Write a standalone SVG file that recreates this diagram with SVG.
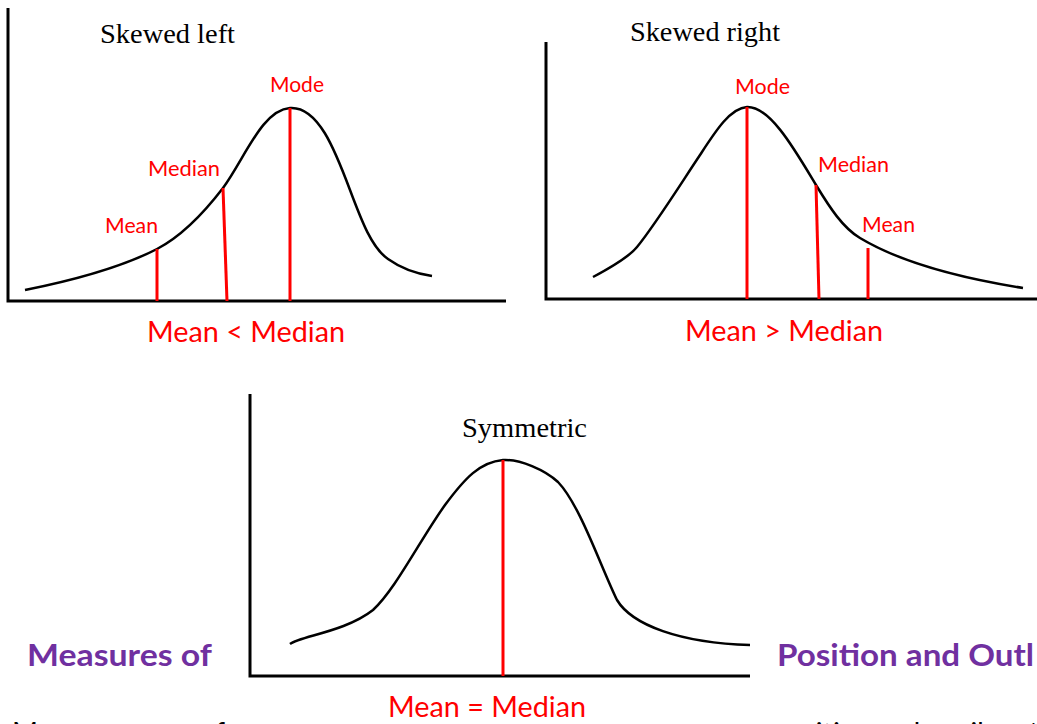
<svg xmlns="http://www.w3.org/2000/svg" width="1037" height="724" viewBox="0 0 1037 724">
<style>
.axis{stroke:#000;stroke-width:3;fill:none}
.curve{stroke:#000;stroke-width:2.5;fill:none;stroke-linejoin:round}
.mark{stroke:#FF0000;stroke-width:3}
.title{font-family:"Liberation Serif","Times New Roman",serif;font-size:27px;fill:#000}
.lbl{font-family:Lato,"Open Sans",sans-serif;font-size:21px;fill:#FF0000}
.rel{font-family:Lato,"Open Sans",sans-serif;font-size:29px;fill:#FF0000}
.head{font-family:Lato,"Open Sans",sans-serif;font-size:30px;font-weight:bold;fill:#7030A0}
.body{font-family:Lato,"Open Sans",sans-serif;font-size:28px;fill:#000}
</style>
<rect width="1037" height="724" fill="#fff"/>
<g id="page-text">
<text class="head" x="27" y="666" textLength="185" lengthAdjust="spacingAndGlyphs">Measures of</text>
<text class="head" x="777" y="666" textLength="257" lengthAdjust="spacingAndGlyphs">Position and Outl</text>
<text class="body" x="12" y="743" word-spacing="62">Measures of</text>
<text class="body" x="772" y="743" word-spacing="14">positions describe th</text>
</g>
<g id="chart-skewed-left">
<path class="axis" d="M8,8 V301 H506"/>
<text class="title" x="100" y="43" textLength="135" lengthAdjust="spacingAndGlyphs">Skewed left</text>
<path class="curve" d="M25,290 C70,281 120,268 157,249 C180,237 200,218 223,188 C245,158 262,110 290,108 C318,106 335,150 350,190 C362,222 372,248 388,259 C402,269 418,274 432,276"/>
<line class="mark" x1="157" y1="249" x2="157" y2="301"/>
<line class="mark" x1="223" y1="188" x2="227" y2="301"/>
<line class="mark" x1="290" y1="108" x2="290" y2="301"/>
<text class="lbl" x="105" y="233" textLength="53" lengthAdjust="spacingAndGlyphs">Mean</text>
<text class="lbl" x="148" y="176" textLength="72" lengthAdjust="spacingAndGlyphs">Median</text>
<text class="lbl" x="270" y="92" textLength="54" lengthAdjust="spacingAndGlyphs">Mode</text>
<text class="rel" x="147" y="342" textLength="198" lengthAdjust="spacingAndGlyphs">Mean &lt; Median</text>
</g>
<g id="chart-skewed-right">
<path class="axis" d="M546,42 V299 H1037"/>
<text class="title" x="630" y="41" textLength="150" lengthAdjust="spacingAndGlyphs">Skewed right</text>
<path class="curve" d="M593,277 C610,268 628,258 637,247 C655,225 680,185 700,155 C715,132 730,108 747,107 C770,106 795,150 816,185 C830,208 843,228 860,238 C900,262 960,278 1023,288"/>
<line class="mark" x1="747" y1="107" x2="747" y2="299"/>
<line class="mark" x1="816" y1="185" x2="819" y2="299"/>
<line class="mark" x1="868" y1="248" x2="868" y2="299"/>
<text class="lbl" x="735" y="94" textLength="55" lengthAdjust="spacingAndGlyphs">Mode</text>
<text class="lbl" x="818" y="172" textLength="71" lengthAdjust="spacingAndGlyphs">Median</text>
<text class="lbl" x="862" y="232" textLength="53" lengthAdjust="spacingAndGlyphs">Mean</text>
<text class="rel" x="685" y="341" textLength="198" lengthAdjust="spacingAndGlyphs">Mean &gt; Median</text>
</g>
<g id="chart-symmetric">
<rect x="236" y="388" width="526" height="336" fill="#fff"/>
<path class="axis" d="M250,394 V676 H750"/>
<text class="title" x="462" y="437" textLength="125" lengthAdjust="spacingAndGlyphs">Symmetric</text>
<path class="curve" d="M290,644 C300,636 345,632 373,610 C395,590 420,540 445,505 C465,478 480,462 503,460 C520,459 545,470 558,482 C580,505 600,565 617,600 C632,625 680,643 750,645"/>
<line class="mark" x1="503" y1="460" x2="503" y2="676"/>
<text class="rel" x="388" y="717" textLength="198" lengthAdjust="spacingAndGlyphs">Mean = Median</text>
</g>
</svg>
